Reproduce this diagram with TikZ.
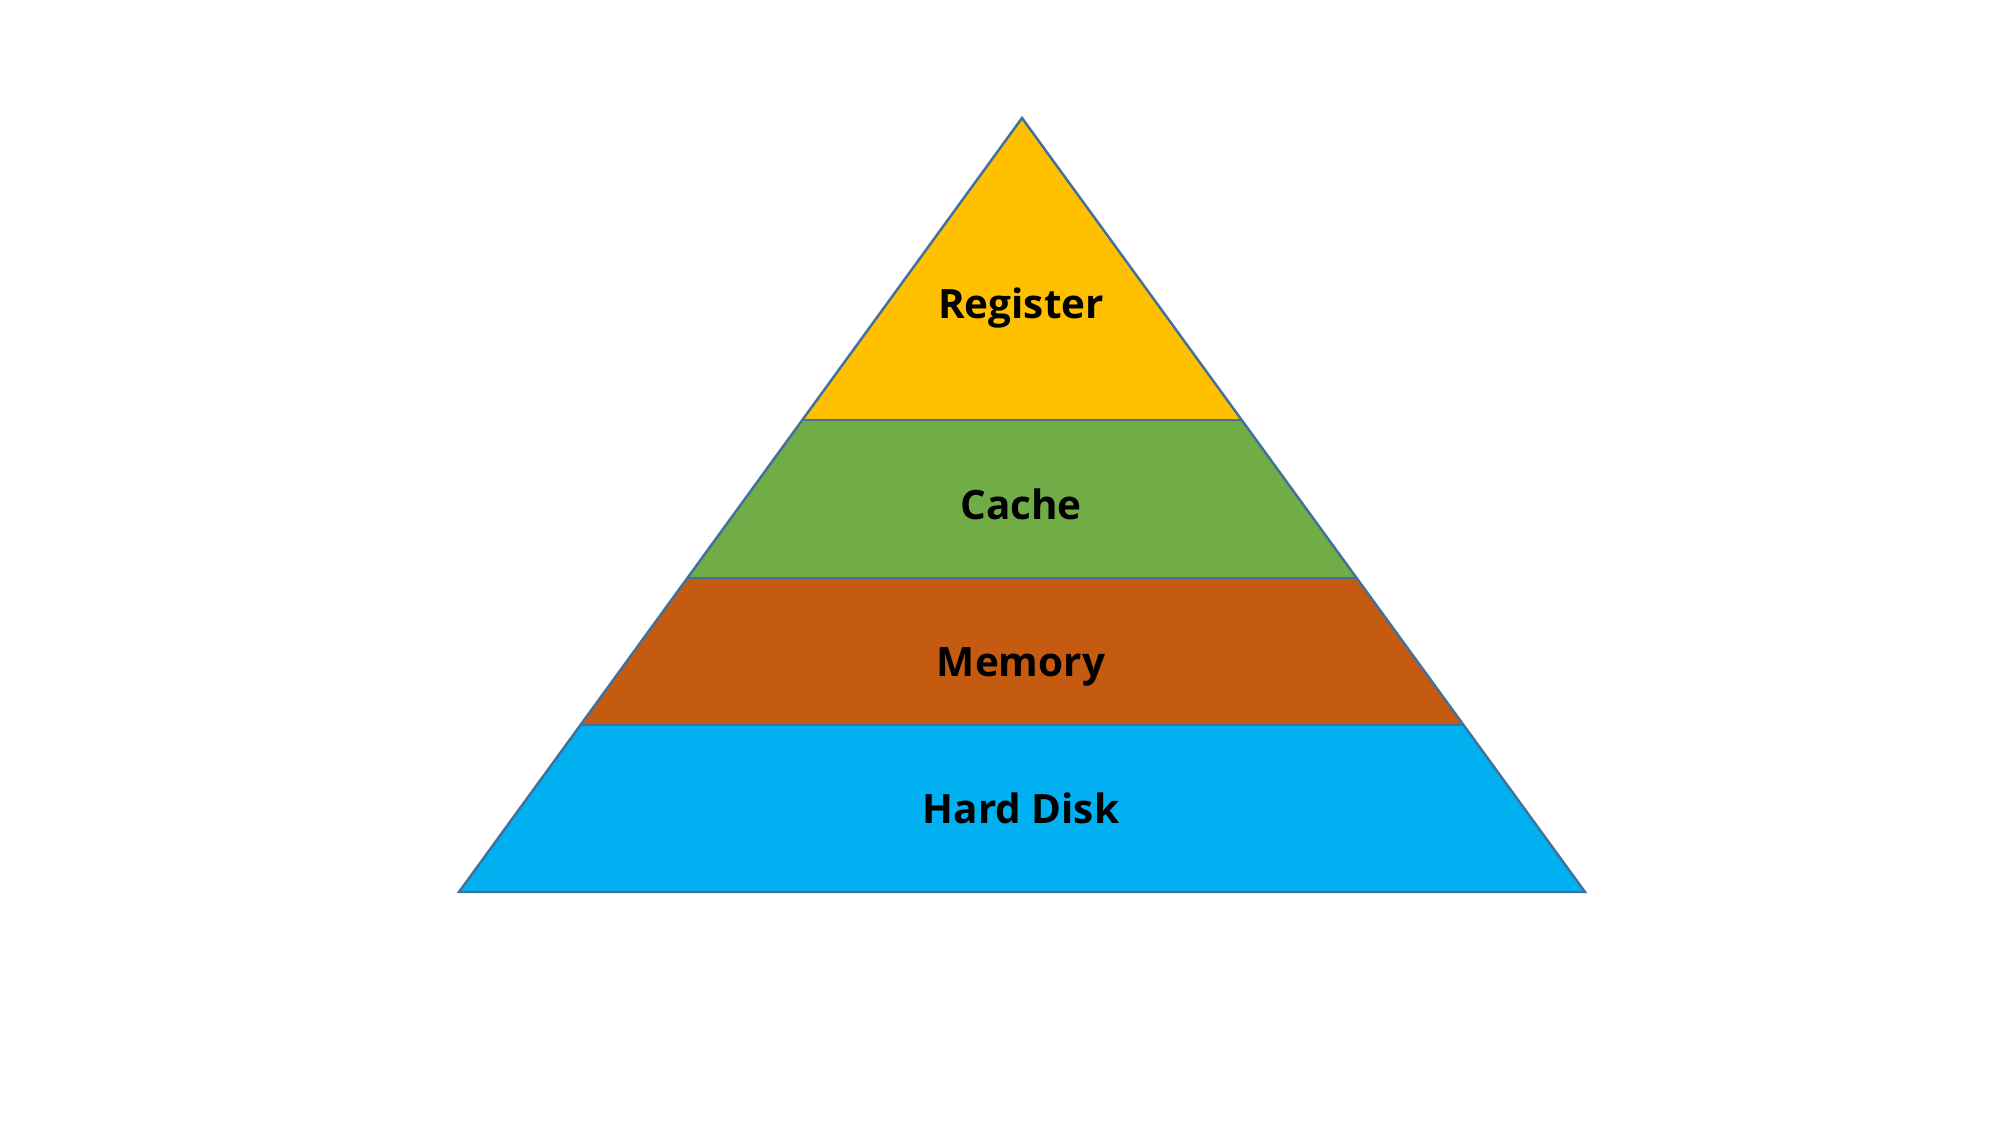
\documentclass[tikz,border=0pt]{standalone}
\usepackage{fontspec}
\setmainfont{Open Sans}
\definecolor{regc}{HTML}{FFC000}
\definecolor{cachec}{HTML}{70AD47}
\definecolor{memc}{HTML}{C55A11}
\definecolor{diskc}{HTML}{00B0F0}
\definecolor{edgec}{HTML}{41719C}
\begin{document}
\begin{tikzpicture}
\tikzset{
  edge/.style={draw=edgec, line width=0.7pt, line join=miter},
  lbl/.style={anchor=base, font=\fontsize{11.5}{13}\selectfont\bfseries, text=black, inner sep=0pt}
}
\useasboundingbox (0,0) rectangle (20,11.25);
\fill[white] (0,0) rectangle (20,11.25);
\coordinate (apex) at (10.22,10.07);
\coordinate (bl) at (4.59,2.33);
\coordinate (br) at (15.85,2.33);
\coordinate (l1) at (8.02,7.05);
\coordinate (r1) at (12.42,7.05);
\coordinate (l2) at (6.87,5.47);
\coordinate (r2) at (13.57,5.47);
\coordinate (l3) at (5.805,4.00);
\coordinate (r3) at (14.635,4.00);
\fill[regc] (apex) -- (r1) -- (l1) -- cycle;
\fill[cachec] (l1) -- (r1) -- (r2) -- (l2) -- cycle;
\fill[memc] (l2) -- (r2) -- (r3) -- (l3) -- cycle;
\fill[diskc] (l3) -- (r3) -- (br) -- (bl) -- cycle;
\draw[edge] (l1) -- (r1);
\draw[edge] (l2) -- (r2);
\draw[edge] (l3) -- (r3);
\draw[edge] (apex) -- (br) -- (bl) -- cycle;
\node[lbl] (reg) at (10.21,8.065) {Register};
\node[lbl] (cache) at (10.21,6.055) {Cache};
\node[lbl] (mem) at (10.21,4.49) {Memory};
\node[lbl] (disk) at (10.21,3.02) {Hard Disk};
\end{tikzpicture}
\end{document}
